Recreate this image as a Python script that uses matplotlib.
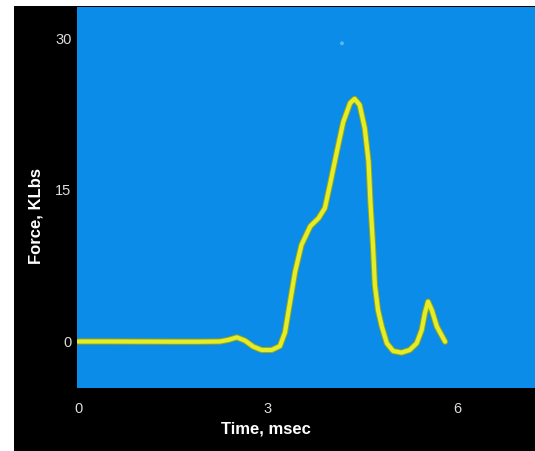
import matplotlib.pyplot as plt
from matplotlib.patches import Rectangle

# force trace
time_ms = [0.0, 0.5, 1.0, 1.5, 1.93, 2.24, 2.37, 2.51, 2.64, 2.77, 2.90, 3.06, 3.19,
           3.27, 3.35, 3.43, 3.53, 3.67, 3.80, 3.90, 3.98, 4.09, 4.19, 4.30, 4.37,
           4.45, 4.53, 4.59, 4.62, 4.66, 4.69, 4.74, 4.80, 4.88, 4.98, 5.11, 5.24,
           5.35, 5.43, 5.48, 5.53, 5.59, 5.67, 5.80]
force_klbs = [0.0, 0.0, -0.01, -0.02, -0.02, 0.0, 0.15, 0.41, 0.08, -0.51, -0.84, -0.84,
              -0.45, 0.9, 3.9, 6.9, 9.55, 11.4, 12.2, 13.2, 15.5, 18.8, 21.7, 23.6, 24.0,
              23.4, 21.1, 17.8, 13.8, 9.55, 5.6, 3.1, 1.47, -0.18, -0.94, -1.1, -0.84,
              -0.18, 1.14, 2.8, 3.94, 3.1, 1.47, -0.02]

x_ticks = [0, 3, 6]
y_ticks = [0, 15, 30]

blue = '#0a8ce8'
yellow = '#e4ee28'
font = ['Liberation Sans', 'DejaVu Sans']

fig = plt.figure(figsize=(5.35, 4.51), dpi=100, facecolor='white')
# black panel behind the plot
fig.patches.append(Rectangle((14 / 535, 0), 1, 445 / 451, transform=fig.transFigure,
                             facecolor='black', edgecolor='none', zorder=-10))

ax = fig.add_axes([77 / 535, 63 / 451, 458 / 535, 381 / 451])
ax.set_zorder(5)
ax.set_facecolor(blue)
ax.plot(time_ms, force_klbs, color='#9aa51a', linewidth=4.4, solid_capstyle='round',
        solid_joinstyle='round')
ax.plot(time_ms, force_klbs, color=yellow, linewidth=3.0, solid_capstyle='round',
        solid_joinstyle='round')
ax.scatter([4.17], [29.5], s=8, color='#5ab8f0', edgecolors='none')

ax.set_xlim(-0.016, 7.22)
ax.set_ylim(-4.6, 33.09)
ax.set_xticks(x_ticks)
ax.set_yticks(y_ticks)
for s in ax.spines.values():
    s.set_visible(False)
ax.tick_params(length=0, colors='#dcdcdc', labelsize=10.5)
ax.tick_params(axis='x', pad=10)
ax.tick_params(axis='y', pad=4)
for lab in ax.get_xticklabels() + ax.get_yticklabels():
    lab.set_family(font)

ax.set_xlabel('Time, msec', color='white', fontsize=12, fontweight='bold', family=font)
ax.xaxis.set_label_coords((265.5 - 77) / 458, -0.087)
ax.set_ylabel('Force, KLbs', color='white', fontsize=12, fontweight='bold', family=font)
ax.yaxis.set_label_coords(-0.074, 0.451)

fig.savefig('out.png', dpi=100, facecolor='white')
